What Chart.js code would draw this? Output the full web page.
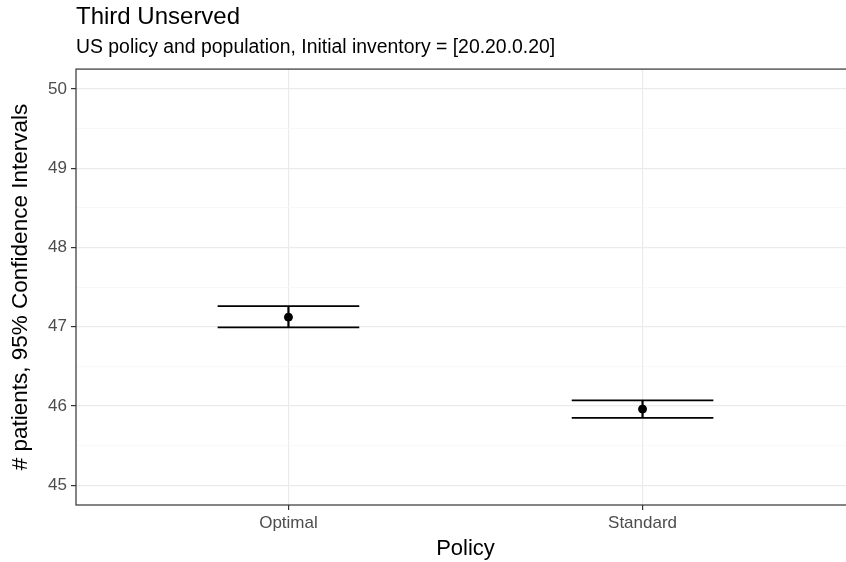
<!DOCTYPE html>
<html lang="en">
<head>
    <meta charset="UTF-8">
    <title>Third Unserved</title>
    <script src="https://cdn.jsdelivr.net/npm/chart.js"></script>
    <style>
        body { margin: 0; background: #fff; }
        #wrap { width: 846px; height: 562px; overflow: hidden; }
    </style>
</head>
<body>
    <div id="wrap">
        <canvas id="myChart" width="860" height="562"></canvas>
    </div>

    <script>
        // values
        const categories = ['Optimal', 'Standard'];
        const means = [47.12, 45.96];
        const lowers = [46.99, 45.85];
        const uppers = [47.26, 46.07];
        const yTicks = [45, 46, 47, 48, 49, 50];

        const FONT = "'Liberation Sans', Arial, sans-serif";
        const capHalf = 0.2; // half width of the error bar caps, in x units

        // error bars: two caps and a vertical whisker for each category
        const barSets = [];
        categories.forEach((c, i) => {
            const x = i + 1;
            [lowers[i], uppers[i]].forEach(v => {
                barSets.push({
                    type: 'line',
                    data: [{ x: x - capHalf, y: v }, { x: x + capHalf, y: v }],
                    borderColor: '#000',
                    borderWidth: 1.8,
                    pointRadius: 0
                });
            });
            barSets.push({
                type: 'line',
                data: [{ x: x, y: lowers[i] }, { x: x, y: uppers[i] }],
                borderColor: '#000',
                borderWidth: 2.2,
                pointRadius: 0
            });
        });

        // minor breaks halfway between the labelled ones
        const yAll = [];
        yTicks.forEach((t, i) => {
            yAll.push(t);
            if (i < yTicks.length - 1) yAll.push((t + yTicks[i + 1]) / 2);
        });
        const isMajor = v => yTicks.includes(v);

        // panel border like theme_bw
        const panelBorder = {
            id: 'panelBorder',
            afterDatasetsDraw(chart) {
                const a = chart.chartArea;
                const ctx = chart.ctx;
                ctx.save();
                ctx.strokeStyle = '#333333';
                ctx.lineWidth = 1.2;
                ctx.strokeRect(a.left, a.top, a.right - a.left, a.bottom - a.top);
                ctx.restore();
            }
        };

        const ctx = document.getElementById('myChart').getContext('2d');
        new Chart(ctx, {
            type: 'scatter',
            data: {
                datasets: [
                    {
                        data: means.map((m, i) => ({ x: i + 1, y: m })),
                        backgroundColor: '#000',
                        borderColor: '#000',
                        pointRadius: 4,
                        order: -1
                    },
                    ...barSets
                ]
            },
            options: {
                responsive: false,
                animation: false,
                layout: { padding: { right: 5 } },
                plugins: {
                    legend: { display: false },
                    tooltip: { enabled: false },
                    title: {
                        display: true,
                        text: 'Third Unserved',
                        align: 'start',
                        fullSize: false,
                        color: '#000',
                        font: { family: FONT, size: 24, weight: 'normal' },
                        padding: { top: 3, bottom: 4 }
                    },
                    subtitle: {
                        display: true,
                        text: 'US policy and population, Initial inventory = [20.20.0.20]',
                        align: 'start',
                        fullSize: false,
                        color: '#000',
                        font: { family: FONT, size: 19.4 },
                        padding: { top: 0, bottom: 10 }
                    }
                },
                scales: {
                    x: {
                        type: 'linear',
                        min: 0.4,
                        max: 2.6,
                        afterBuildTicks: s => { s.ticks = categories.map((c, i) => ({ value: i + 1 })); },
                        afterFit: s => { s.height = 57; },
                        ticks: {
                            callback: v => categories[v - 1],
                            color: '#4d4d4d',
                            font: { family: FONT, size: 17 },
                            padding: 3
                        },
                        grid: {
                            color: '#ebebeb',
                            lineWidth: 1.2,
                            tickColor: '#333333',
                            tickWidth: 1.2,
                            tickLength: 5
                        },
                        border: { display: false },
                        title: {
                            display: true,
                            text: 'Policy',
                            color: '#000',
                            font: { family: FONT, size: 22 },
                            padding: { top: 0, bottom: 0 }
                        }
                    },
                    y: {
                        min: 44.75,
                        max: 50.25,
                        afterBuildTicks: s => { s.ticks = yAll.map(v => ({ value: v })); },
                        afterFit: s => { s.width = 76; },
                        ticks: {
                            callback: v => isMajor(v) ? String(v) : '',
                            color: '#4d4d4d',
                            font: { family: FONT, size: 17 },
                            padding: 4
                        },
                        grid: {
                            color: c => isMajor(c.tick.value) ? '#ebebeb' : '#f5f5f5',
                            lineWidth: c => isMajor(c.tick.value) ? 1.2 : 0.7,
                            tickColor: c => isMajor(c.tick.value) ? '#333333' : 'rgba(0,0,0,0)',
                            tickWidth: 1.2,
                            tickLength: 5
                        },
                        border: { display: false },
                        title: {
                            display: true,
                            text: '# patients, 95% Confidence Intervals',
                            color: '#000',
                            font: { family: FONT, size: 22.5 },
                            padding: { top: 7, bottom: 0 }
                        }
                    }
                }
            },
            plugins: [panelBorder]
        });
    </script>
</body>
</html>
